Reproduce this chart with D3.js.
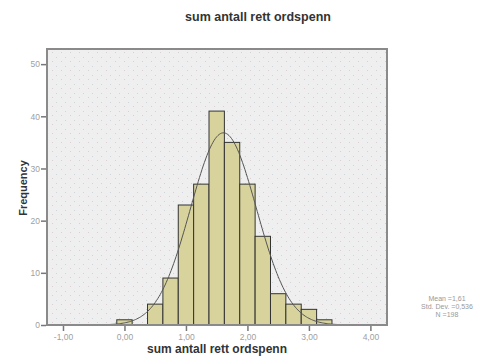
<!DOCTYPE html>
<html>
<head>
<meta charset="utf-8">
<script src="https://cdn.jsdelivr.net/npm/d3@7"></script>
<style>
  body { margin: 0; background: #fff; }
  text { font-family: Arial, "Liberation Sans", sans-serif; }
</style>
</head>
<body>
<svg id="chart" width="494" height="358"></svg>
<script>
// histogram bins (lower edge) and counts
const binStarts = [-0.125, 0.375, 0.625, 0.875, 1.125, 1.375, 1.625, 1.875, 2.125, 2.375, 2.625, 2.875, 3.125]
const counts = [1, 4, 9, 23, 27, 41, 35, 27, 17, 6, 4, 3, 1]
const binWidth = 0.25
const xTicks = [-1, 0, 1, 2, 3, 4]
const yTicks = [0, 10, 20, 30, 40, 50]
const statLabels = ['Mean =1,61', 'Std. Dev. =0,536', 'N =198']
const mean = 1.61
const sd = 0.536
const n = 198

const svg = d3.select('#chart')
const locale = d3.formatLocale({ decimal: ',', thousands: '.', grouping: [3], currency: ['', ''], minus: '-' })
const fmt = locale.format('.2f')

const x = d3.scaleLinear().domain([-1.26, 4.27]).range([47, 387])
const y = d3.scaleLinear().domain([0, 52.9]).range([325, 49])

// dotted background pattern
const defs = svg.append('defs')
const pat = defs.append('pattern')
  .attr('id', 'dots').attr('width', 9).attr('height', 9)
  .attr('patternUnits', 'userSpaceOnUse')
pat.append('rect').attr('width', 9).attr('height', 9).attr('fill', '#efefef')
pat.append('rect').attr('x', 2).attr('y', 3).attr('width', 1).attr('height', 1).attr('fill', '#cdd6de')
pat.append('rect').attr('x', 7).attr('y', 7).attr('width', 1).attr('height', 1).attr('fill', '#dccfd3')

svg.append('rect')
  .attr('x', x.range()[0]).attr('y', y.range()[1])
  .attr('width', x.range()[1] - x.range()[0])
  .attr('height', y.range()[0] - y.range()[1])
  .attr('fill', 'url(#dots)')

const plot = svg.append('g')
  .attr('clip-path', 'url(#clip)')
defs.append('clipPath').attr('id', 'clip').append('rect')
  .attr('x', x.range()[0]).attr('y', y.range()[1])
  .attr('width', x.range()[1] - x.range()[0])
  .attr('height', y.range()[0] - y.range()[1])

// bars
plot.selectAll('.bar')
  .data(binStarts.map((s, i) => ({ s, c: counts[i] })))
  .enter()
  .append('rect')
  .attr('class', 'bar')
  .attr('x', d => x(d.s))
  .attr('y', d => y(d.c))
  .attr('width', d => x(d.s + binWidth) - x(d.s))
  .attr('height', d => y(0) - y(d.c))
  .attr('fill', '#d8d39c')
  .attr('stroke', '#333')
  .attr('stroke-width', 1)

// normal curve fitted from mean / sd / n
const curvePts = d3.range(-0.6, 4.0, 0.02).map(v => {
  const z = (v - mean) / sd
  return [v, n * binWidth / (sd * Math.sqrt(2 * Math.PI)) * Math.exp(-0.5 * z * z)]
})
plot.append('path')
  .datum(curvePts)
  .attr('d', d3.line().x(d => x(d[0])).y(d => y(d[1])).curve(d3.curveBasis))
  .attr('fill', 'none')
  .attr('stroke', '#555')
  .attr('stroke-width', 1)

// frame
svg.append('rect')
  .attr('x', x.range()[0]).attr('y', y.range()[1])
  .attr('width', x.range()[1] - x.range()[0])
  .attr('height', y.range()[0] - y.range()[1])
  .attr('fill', 'none')
  .attr('stroke', '#8a8a8a')
  .attr('stroke-width', 2)

// axes
const xAxis = svg.append('g')
  .attr('transform', `translate(0,${y(0) + 1})`)
  .call(d3.axisBottom(x).tickValues(xTicks).tickFormat(fmt).tickSize(5).tickPadding(3))
const yAxis = svg.append('g')
  .attr('transform', `translate(${x.range()[0] - 1},0)`)
  .call(d3.axisLeft(y).tickValues(yTicks).tickSize(5).tickPadding(1))
for (const ax of [xAxis, yAxis]) {
  ax.select('.domain').remove()
  ax.selectAll('line').attr('stroke', '#777').attr('stroke-width', 1.5)
  ax.selectAll('text').attr('fill', '#a0a0a0').style('font-size', '8.5px')
}

// titles
svg.append('text')
  .attr('x', 258).attr('y', 21)
  .attr('text-anchor', 'middle')
  .style('font-size', '12.5px').style('font-weight', 'bold')
  .attr('fill', '#333')
  .text('sum antall rett ordspenn')

svg.append('text')
  .attr('x', 217).attr('y', 353)
  .attr('text-anchor', 'middle')
  .style('font-size', '12px').style('font-weight', 'bold')
  .attr('fill', '#333')
  .text('sum antall rett ordspenn')

svg.append('text')
  .attr('transform', 'translate(27,188) rotate(-90)')
  .attr('text-anchor', 'middle')
  .style('font-size', '11px').style('font-weight', 'bold')
  .attr('fill', '#333')
  .text('Frequency')

// stats
svg.append('g').selectAll('text')
  .data(statLabels)
  .enter()
  .append('text')
  .attr('x', 447)
  .attr('y', (d, i) => 301 + i * 8)
  .attr('text-anchor', 'middle')
  .style('font-size', '7px')
  .attr('fill', '#999')
  .text(d => d)
</script>
</body>
</html>
